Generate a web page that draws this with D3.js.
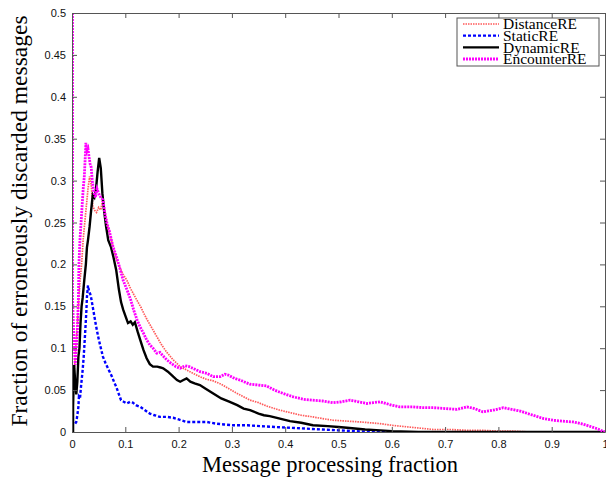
<!DOCTYPE html>
<html>
<head>
<meta charset="utf-8">
<script src="https://cdn.jsdelivr.net/npm/d3@7"></script>
<style>
  body { margin: 0; background: #fff; }
  svg { display: block; }
</style>
</head>
<body>
<svg width="606" height="477"></svg>
<script>
// series as [fraction, value]
var distanceRE = [[0.003,0.06],[0.006,0.09],[0.009,0.12],[0.012,0.15],[0.015,0.18],[0.018,0.2],[0.021,0.23],[0.024,0.25],[0.027,0.27],[0.03,0.29],[0.033,0.305],[0.036,0.295],[0.039,0.27],[0.042,0.265],[0.046,0.262],[0.05,0.268],[0.054,0.265],[0.058,0.279],[0.062,0.262],[0.066,0.248],[0.07,0.238],[0.077,0.221],[0.084,0.205],[0.09,0.196],[0.096,0.188],[0.103,0.181],[0.11,0.171],[0.116,0.164],[0.122,0.157],[0.13,0.148],[0.136,0.14],[0.141,0.134],[0.15,0.124],[0.159,0.114],[0.168,0.104],[0.178,0.095],[0.19,0.086],[0.203,0.078],[0.215,0.074],[0.227,0.070],[0.24,0.066],[0.252,0.063],[0.265,0.061],[0.28,0.057],[0.296,0.051],[0.31,0.046],[0.322,0.042],[0.334,0.038],[0.35,0.035],[0.365,0.031],[0.38,0.028],[0.39,0.026],[0.41,0.023],[0.43,0.020],[0.452,0.018],[0.47,0.016],[0.49,0.014],[0.516,0.013],[0.54,0.012],[0.56,0.011],[0.578,0.010],[0.6,0.008],[0.615,0.007],[0.647,0.005],[0.678,0.003],[0.71,0.003],[0.74,0.002],[0.77,0.002],[0.8,0.001],[0.83,0.001],[0.86,0.0]];

var staticRE = [[0.006,0.01],[0.008,0.012],[0.01,0.02],[0.012,0.03],[0.013,0.042],[0.015,0.04],[0.017,0.055],[0.02,0.074],[0.022,0.09],[0.025,0.122],[0.027,0.145],[0.028,0.161],[0.03,0.175],[0.032,0.168],[0.034,0.165],[0.036,0.16],[0.039,0.149],[0.042,0.138],[0.045,0.127],[0.049,0.114],[0.053,0.103],[0.058,0.09],[0.063,0.082],[0.069,0.074],[0.075,0.066],[0.08,0.058],[0.083,0.054],[0.088,0.045],[0.092,0.038],[0.097,0.036],[0.103,0.034],[0.109,0.036],[0.114,0.035],[0.12,0.032],[0.128,0.03],[0.137,0.026],[0.146,0.022],[0.155,0.02],[0.165,0.018],[0.178,0.018],[0.19,0.017],[0.2,0.015],[0.215,0.012],[0.235,0.012],[0.253,0.012],[0.27,0.010],[0.285,0.009],[0.302,0.008],[0.33,0.008],[0.353,0.007],[0.38,0.006],[0.41,0.005],[0.44,0.004],[0.47,0.003],[0.5,0.002],[0.53,0.001],[0.56,0.0],[0.6,0.0]];

var dynamicRE = [[0.0,0.0],[0.002,0.0],[0.002,0.03],[0.004,0.08],[0.006,0.06],[0.008,0.045],[0.01,0.06],[0.012,0.09],[0.014,0.1],[0.016,0.13],[0.018,0.15],[0.02,0.16],[0.023,0.181],[0.026,0.2],[0.028,0.22],[0.03,0.229],[0.033,0.245],[0.036,0.265],[0.039,0.283],[0.042,0.28],[0.045,0.29],[0.048,0.31],[0.051,0.327],[0.054,0.315],[0.057,0.285],[0.06,0.265],[0.064,0.245],[0.068,0.229],[0.073,0.221],[0.078,0.208],[0.083,0.193],[0.088,0.17],[0.092,0.155],[0.096,0.146],[0.101,0.137],[0.105,0.13],[0.11,0.132],[0.114,0.128],[0.118,0.131],[0.123,0.12],[0.128,0.11],[0.134,0.098],[0.14,0.088],[0.146,0.081],[0.152,0.078],[0.16,0.078],[0.166,0.077],[0.171,0.076],[0.18,0.072],[0.19,0.066],[0.197,0.062],[0.203,0.06],[0.209,0.062],[0.215,0.064],[0.222,0.06],[0.23,0.058],[0.24,0.056],[0.25,0.052],[0.265,0.046],[0.28,0.04],[0.296,0.036],[0.31,0.032],[0.322,0.028],[0.334,0.026],[0.35,0.022],[0.36,0.020],[0.371,0.019],[0.39,0.016],[0.409,0.013],[0.43,0.011],[0.452,0.008],[0.48,0.007],[0.5,0.006],[0.516,0.005],[0.55,0.003],[0.578,0.002],[0.6,0.001],[0.65,0.0],[0.75,0.0],[0.85,0.0],[1.0,0.0]];

var encounterRE = [[0.001,0.5],[0.001,0.16],[0.003,0.12],[0.006,0.08],[0.008,0.1],[0.01,0.12],[0.012,0.16],[0.013,0.2],[0.015,0.23],[0.017,0.25],[0.019,0.27],[0.021,0.29],[0.023,0.304],[0.025,0.33],[0.026,0.345],[0.028,0.335],[0.03,0.338],[0.032,0.328],[0.034,0.32],[0.036,0.316],[0.038,0.3],[0.041,0.286],[0.044,0.28],[0.047,0.29],[0.05,0.285],[0.054,0.28],[0.058,0.277],[0.062,0.26],[0.066,0.248],[0.07,0.24],[0.077,0.221],[0.083,0.21],[0.09,0.195],[0.096,0.181],[0.103,0.17],[0.11,0.158],[0.116,0.145],[0.122,0.134],[0.128,0.125],[0.134,0.118],[0.14,0.11],[0.146,0.104],[0.152,0.1],[0.159,0.094],[0.165,0.095],[0.172,0.09],[0.178,0.086],[0.186,0.082],[0.195,0.078],[0.203,0.076],[0.212,0.079],[0.22,0.078],[0.227,0.076],[0.24,0.072],[0.253,0.07],[0.265,0.066],[0.278,0.066],[0.287,0.069],[0.293,0.068],[0.305,0.064],[0.315,0.062],[0.334,0.057],[0.35,0.056],[0.365,0.055],[0.38,0.05],[0.396,0.046],[0.415,0.042],[0.434,0.039],[0.45,0.038],[0.47,0.037],[0.49,0.035],[0.505,0.036],[0.522,0.038],[0.538,0.036],[0.553,0.034],[0.565,0.035],[0.578,0.036],[0.6,0.032],[0.615,0.030],[0.64,0.030],[0.66,0.029],[0.678,0.029],[0.7,0.028],[0.722,0.027],[0.741,0.030],[0.755,0.028],[0.771,0.024],[0.79,0.026],[0.809,0.029],[0.825,0.027],[0.841,0.025],[0.855,0.022],[0.865,0.020],[0.885,0.016],[0.903,0.014],[0.92,0.013],[0.94,0.012],[0.955,0.010],[0.966,0.008],[0.985,0.004],[1.0,0.0]];

var seriesNames = ["DistanceRE", "StaticRE", "DynamicRE", "EncounterRE"];
var xTicks = [0, 0.1, 0.2, 0.3, 0.4, 0.5, 0.6, 0.7, 0.8, 0.9, 1];
var yTicks = [0, 0.05, 0.1, 0.15, 0.2, 0.25, 0.3, 0.35, 0.4, 0.45, 0.5];

var svg = d3.select("svg");
var plotLeft = 72, plotRight = 605, plotTop = 13, plotBottom = 432;

var x = d3.scaleLinear().domain([0, 1]).range([plotLeft, plotRight]);
var y = d3.scaleLinear().domain([0, 0.5]).range([plotBottom, plotTop]);

var styles = [
  { data: distanceRE, color: "#ff5a5a", width: 1.7, dash: "1.5,1" },
  { data: staticRE, color: "#0000ff", width: 2.4, dash: "3,2" },
  { data: dynamicRE, color: "#000000", width: 2.4, dash: null },
  { data: encounterRE, color: "#ff00ff", width: 2.8, dash: "2,1" }
];

var line = d3.line()
  .x(function(d) { return x(d[0]); })
  .y(function(d) { return y(d[1]); });

svg.append("clipPath").attr("id", "clip")
  .append("rect")
  .attr("x", plotLeft).attr("y", plotTop - 1)
  .attr("width", plotRight - plotLeft + 1).attr("height", plotBottom - plotTop + 2);

svg.append("g").attr("clip-path", "url(#clip)")
  .selectAll("path")
  .data(styles)
  .enter()
  .append("path")
  .attr("d", function(d) { return line(d.data); })
  .attr("fill", "none")
  .attr("stroke", function(d) { return d.color; })
  .attr("stroke-width", function(d) { return d.width; })
  .attr("stroke-dasharray", function(d) { return d.dash; });

// axes, ticks pointing inwards, mirrored on top/right
function styleAxis(g) {
  g.select(".domain").attr("stroke", "#555");
  g.selectAll(".tick line").attr("stroke", "#555");
  g.selectAll(".tick text")
    .attr("fill", "#111")
    .style("font-family", "'Liberation Sans', Arial, sans-serif")
    .style("font-size", "11px");
}

svg.append("g")
  .attr("transform", "translate(0," + plotBottom + ")")
  .call(d3.axisBottom(x).tickValues(xTicks).tickSize(-5).tickSizeOuter(0).tickPadding(8).tickFormat(d3.format("")))
  .call(styleAxis);

svg.append("g")
  .attr("transform", "translate(0," + plotTop + ")")
  .call(d3.axisTop(x).tickValues(xTicks).tickSize(-5).tickSizeOuter(0).tickFormat(""))
  .call(styleAxis);

svg.append("g")
  .attr("transform", "translate(" + plotLeft + ",0)")
  .call(d3.axisLeft(y).tickValues(yTicks).tickSize(-5).tickSizeOuter(0).tickPadding(6).tickFormat(d3.format("")))
  .call(styleAxis);

svg.append("g")
  .attr("transform", "translate(" + plotRight + ",0)")
  .call(d3.axisRight(y).tickValues(yTicks).tickSize(-5).tickSizeOuter(0).tickFormat(""))
  .call(styleAxis);

// axis titles
svg.append("text")
  .attr("x", 330)
  .attr("y", 472)
  .attr("text-anchor", "middle")
  .style("font-family", "'Liberation Serif', 'DejaVu Serif', serif")
  .style("font-size", "22.5px")
  .text("Message processing fraction");

svg.append("text")
  .attr("transform", "translate(27,221) rotate(-90)")
  .attr("text-anchor", "middle")
  .style("font-family", "'Liberation Serif', 'DejaVu Serif', serif")
  .style("font-size", "23.5px")
  .text("Fraction of erroneously discarded messages");

// legend
var legend = svg.append("g");
legend.append("rect")
  .attr("x", 457).attr("y", 18)
  .attr("width", 142).attr("height", 48)
  .attr("fill", "#fff")
  .attr("stroke", "#555");

var rowY = d3.scalePoint().domain(seriesNames).range([24, 59]);

var rows = legend.selectAll(".row")
  .data(styles)
  .enter()
  .append("g")
  .attr("transform", function(d, i) { return "translate(0," + rowY(seriesNames[i]) + ")"; });

rows.append("line")
  .attr("x1", 463).attr("x2", 499)
  .attr("stroke", function(d) { return d.color; })
  .attr("stroke-width", function(d) { return d.width; })
  .attr("stroke-dasharray", function(d) { return d.dash; });

rows.append("text")
  .attr("x", 503)
  .attr("dy", "0.35em")
  .style("font-family", "'Liberation Serif', 'DejaVu Serif', serif")
  .style("font-size", "15.5px")
  .text(function(d, i) { return seriesNames[i]; });
</script>
</body>
</html>
